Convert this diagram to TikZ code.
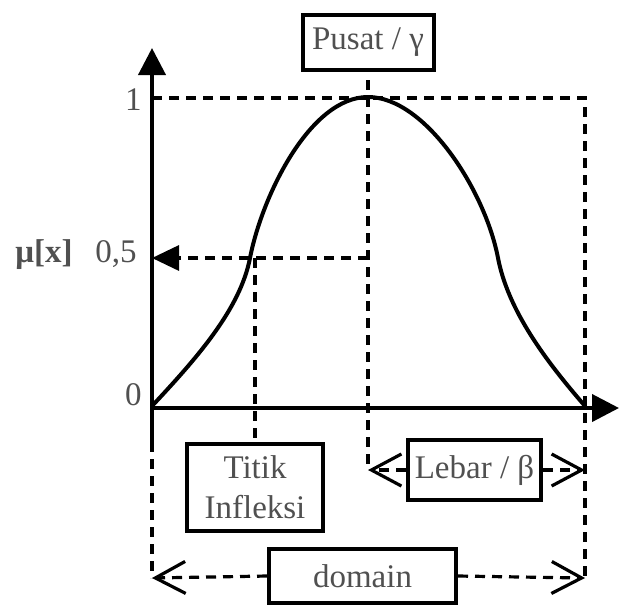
\documentclass[tikz,border=0pt]{standalone}
\usepackage{fontspec}
\setmainfont{Liberation Serif}
\usetikzlibrary{positioning, arrows.meta}
\definecolor{txtgray}{HTML}{505050}
\newcommand{\lbl}{\fontsize{16.5}{20}\selectfont}

\begin{document}
\begin{tikzpicture}[x=0.5pt, y=-0.5pt,
  box/.style={draw, line width=2pt, inner sep=0pt, align=center, font=\lbl, text=txtgray},
  axis/.style={line width=2pt, -{Triangle[length=13.5pt, width=13.5pt]}},
  guide/.style={line width=1.6pt, dash pattern=on 5pt off 3.5pt},
  fillarr/.style={guide, -{Triangle[length=13.5pt, width=12.5pt]}},
  barb/.style={guide, -{Straight Barb[length=15pt, width=16pt]}},
  curve/.style={line width=2pt, line join=round},
  tick/.style={inner sep=0pt, font=\lbl, text=txtgray},
]
  \useasboundingbox (0,0) rectangle (619,606);

  \coordinate (orig)   at (152,408);
  \coordinate (peak)   at (368,98);
  \coordinate (infl)   at (255,258);
  \coordinate (half)   at (368,258);
  \coordinate (lebarL) at (368,470);
  \coordinate (lebarR) at (585,470);
  \coordinate (domL)   at (152,578);
  \coordinate (domR)   at (585,578);

  \node[box, minimum width=65.5pt, minimum height=27.5pt, above=13pt of peak]
                              (pusat)  {Pusat / γ};
  \node[box, minimum width=66.5pt, minimum height=30pt, right=19pt of lebarL]
                              (lebar)  {Lebar / β};
  \node[box, minimum width=68pt, minimum height=43.5pt, below=92pt of infl]
                              (titik)  {Titik\\Infleksi};
  \node[box, minimum width=93.5pt, minimum height=27pt] at (362.5,576)
                              (domain) {domain};

  \draw[guide] (152,98) -- (585,98) -- (domR);
  \draw[guide, shorten <=4pt] (pusat.south) -- (lebarL);
  \draw[guide] (infl) -- (titik.north);
  \draw[guide] (152,442) -- (domL);
  \draw[fillarr] (half) -- (152,258);
  \draw[barb] (lebar.west) -- (lebarL);
  \draw[barb] (lebar.east) -- (lebarR);
  \draw[barb] (domain.west) -- (domL);
  \draw[barb] (domain.east) -- (domR);

  \draw[axis] (152,442) -- (152,48);
  \draw[axis] (orig) -- (619,408);

  \draw[curve] (152,406) .. controls (195,360) and (240,310) .. (250,258)
    .. controls (262,196) and (310,97) .. (368,97)
    .. controls (425,97) and (485,190) .. (498,258)
    .. controls (508,310) and (545,360) .. (585,406);

  \node[tick, anchor=base east] (one)  at (142,110) {1};
  \node[tick, anchor=base east] (zero) at (142,405) {0};
  \node[tick, anchor=base east] (mid)  at (137,262) {0,5};
  \node[tick, anchor=base west, font=\lbl\bfseries] (mu) at (15,262) {μ[x]};
\end{tikzpicture}
\end{document}
